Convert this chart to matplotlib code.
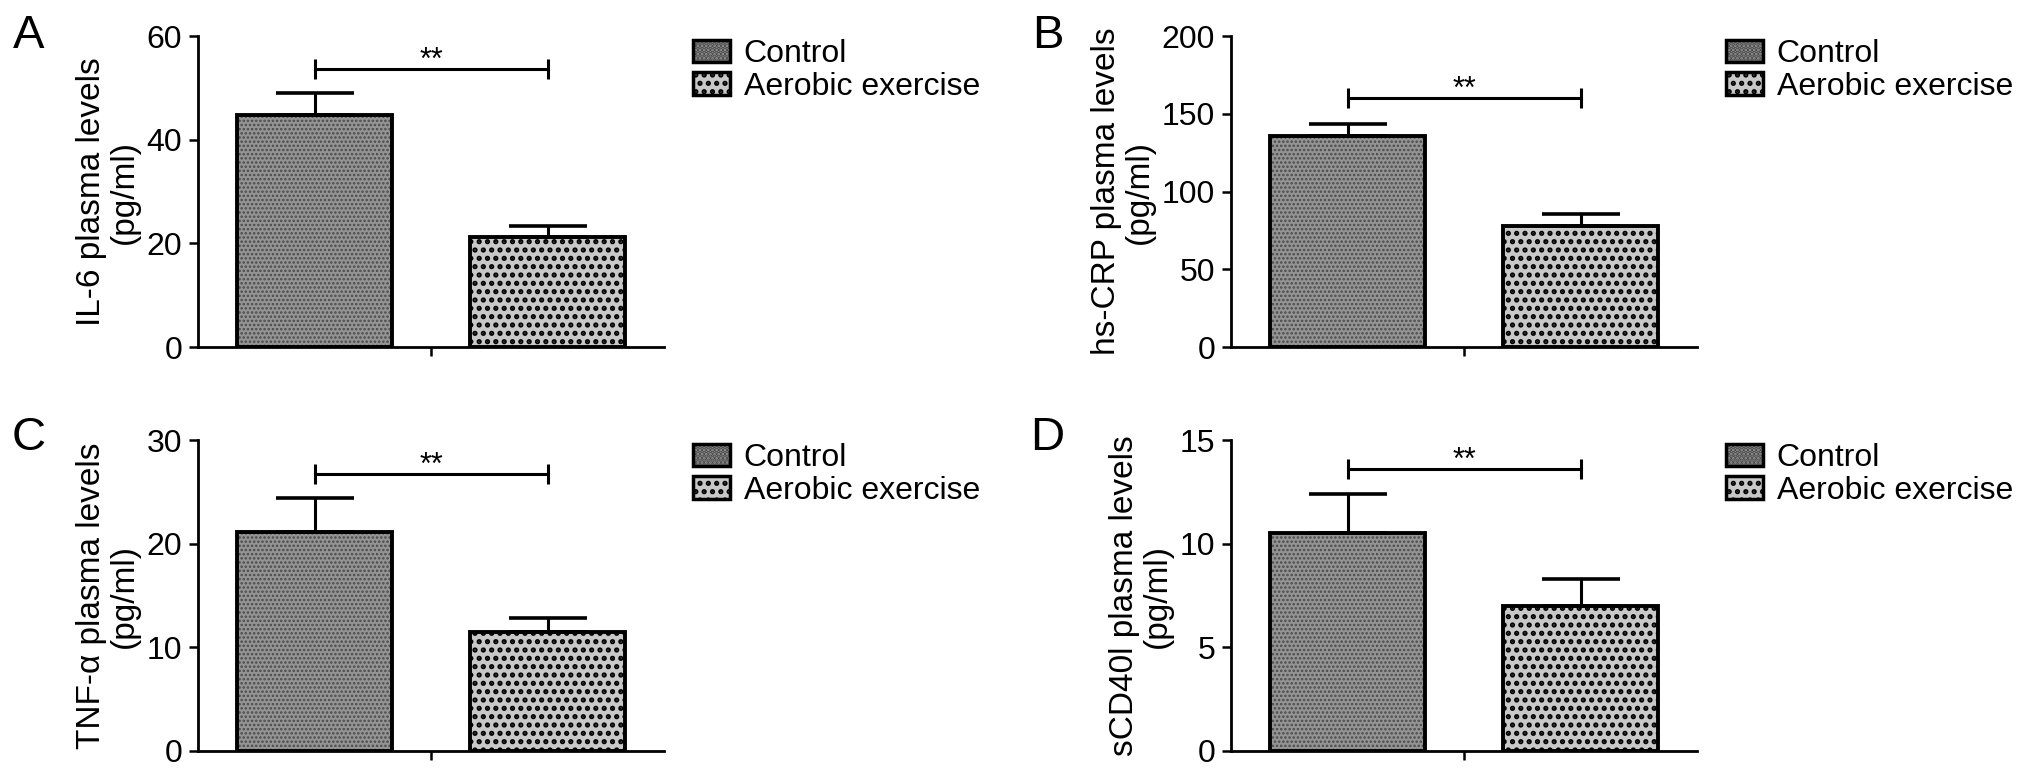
import numpy as np
import matplotlib.pyplot as plt
from matplotlib.patches import Patch
from matplotlib.legend_handler import HandlerTuple

plt.rcParams['font.family'] = ['Liberation Sans', 'DejaVu Sans']

# groups and panels
groups = ["Control", "Aerobic exercise"]
panel_letters = ["A", "B", "C", "D"]
y_labels = ["IL-6 plasma levels\n(pg/ml)", "hs-CRP plasma levels\n(pg/ml)",
            "TNF-α plasma levels\n(pg/ml)", "sCD40l plasma levels\n(pg/ml)"]

# mean and sem
il6_mean = [44.7, 21.2]
il6_sem = [4.3, 2.2]
crp_mean = [135.9, 77.9]
crp_sem = [7.6, 7.7]
tnf_mean = [21.1, 11.5]
tnf_sem = [3.3, 1.3]
cd40l_mean = [10.5, 7.0]
cd40l_sem = [1.9, 1.3]

sig_level = [53.6, 160.2, 26.7, 13.6]
sig_text = ["**", "**", "**", "**"]
y_max = [60, 200, 30, 15]
y_step = [20, 50, 10, 5]

means = [il6_mean, crp_mean, tnf_mean, cd40l_mean]
sems = [il6_sem, crp_sem, tnf_sem, cd40l_sem]

# fill styles for the two groups: face, hatch, hatch colour, hatch width
styles = [("#949494", "....", "#4a4a4a", 1.2),
          ("#c8c8c8", "..", "black", 2.5)]

W, H = 2032, 772
fig = plt.figure(figsize=(W / 100, H / 100), dpi=100)

ax_left_px = [198, 1231, 198, 1231]
ax_top_px = [36, 36, 440, 440]
ax_w_px, ax_h_px = 466, 311
label_x_px = [13, 1032, 12, 1030]
label_base_px = [48, 48, 450, 450]

x = np.array([0.75, 2.25])

for p in range(4):
    ax = fig.add_axes([ax_left_px[p] / W, 1 - (ax_top_px[p] + ax_h_px) / H,
                       ax_w_px / W, ax_h_px / H])

    # bar fill with pattern
    for i in range(2):
        face, hatch, hcol, hlw = styles[i]
        plt.rcParams['hatch.linewidth'] = hlw
        bars = ax.bar(x[i], means[p][i], width=1.0, color=face, edgecolor=hcol,
                      hatch=hatch, linewidth=0, zorder=2)
        for b in bars:
            if hasattr(b, "set_hatch_linewidth"):
                b.set_hatch_linewidth(hlw)
    # bar outline
    ax.bar(x, means[p], width=1.0, fill=False, edgecolor="black", linewidth=2.8, zorder=4)

    # upper error bars only
    ax.errorbar(x, means[p], yerr=[[0, 0], sems[p]], fmt="none", ecolor="black",
                elinewidth=2.2, capsize=28, capthick=2.6, zorder=3)

    # significance bracket
    ax.plot(x, [sig_level[p], sig_level[p]], color="black", lw=2.2, marker="|",
            markersize=14.5, mew=2.2, zorder=3, clip_on=False)
    ax.text(x.mean(), sig_level[p], sig_text[p], ha="center", va="baseline", fontsize=22)

    ax.set_xlim(0, 3)
    ax.set_ylim(0, y_max[p])
    ax.set_yticks(np.arange(0, y_max[p] + y_step[p], y_step[p]))
    ax.set_xticks([x.mean()])
    ax.set_xticklabels([""])
    ax.spines["top"].set_visible(False)
    ax.spines["right"].set_visible(False)
    ax.spines["left"].set_linewidth(2)
    ax.spines["bottom"].set_linewidth(2)
    ax.tick_params(axis="both", direction="out", length=6.5, width=1.8, labelsize=23, pad=5)
    ax.set_ylabel(y_labels[p], fontsize=24, linespacing=1.07, labelpad=5)

    handles = []
    for face, hatch, hcol, hlw in styles:
        plt.rcParams['hatch.linewidth'] = hlw
        fill_patch = Patch(facecolor=face, edgecolor=hcol, hatch=hatch, linewidth=0)
        if hasattr(fill_patch, "set_hatch_linewidth"):
            fill_patch.set_hatch_linewidth(hlw)
        handles.append((fill_patch, Patch(fill=False, edgecolor="black", linewidth=2.5)))
    ax.legend(handles, groups, handler_map={tuple: HandlerTuple(ndivide=1, pad=0)},
              loc="upper left", bbox_to_anchor=(1.062, 0.99), frameon=False,
              fontsize=23, handlelength=1.16, handleheight=0.7, handletextpad=0.43,
              labelspacing=0.08, borderpad=0, borderaxespad=0)

    fig.text(label_x_px[p] / W, 1 - label_base_px[p] / H, panel_letters[p],
             fontsize=34, va="baseline", ha="left")

fig.savefig("out.png", dpi=100)
